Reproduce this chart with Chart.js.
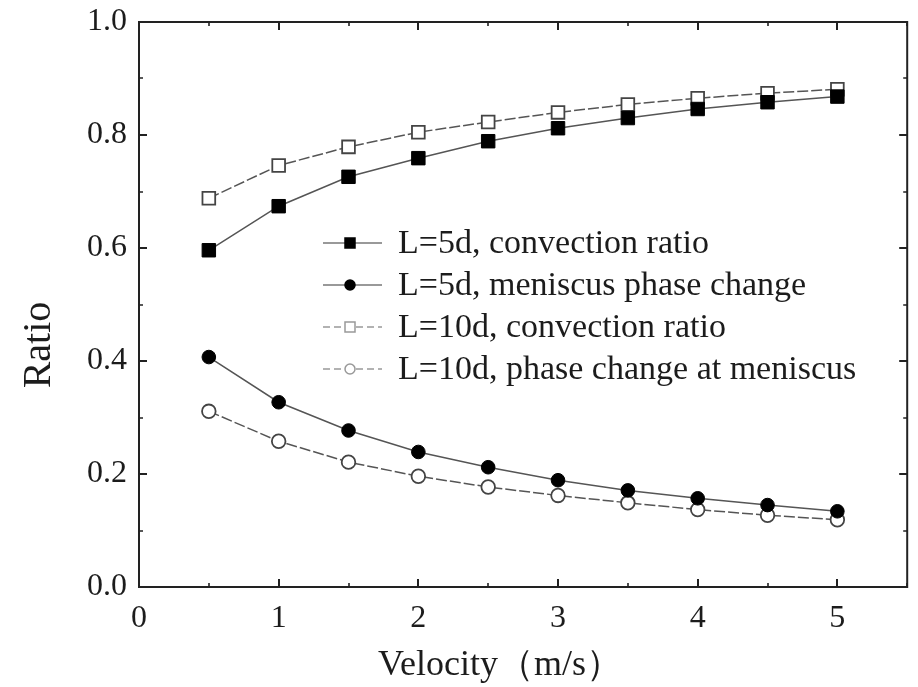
<!DOCTYPE html>
<html>
<head>
<meta charset="utf-8">
<script src="https://cdn.jsdelivr.net/npm/chart.js@4.4.1/dist/chart.umd.min.js"></script>
<style>
  html, body { margin: 0; padding: 0; background: #ffffff; }
  #wrap { width: 918px; height: 687px; }
</style>
</head>
<body>
<div id="wrap"><canvas id="c" width="918" height="687"></canvas></div>
<script>
// ---- data ----
const velocity = [0.5, 1, 1.5, 2, 2.5, 3, 3.5, 4, 4.5, 5];
const convection5d  = [0.596, 0.674, 0.726, 0.759, 0.789, 0.812, 0.830, 0.846, 0.858, 0.868];
const phase5d       = [0.407, 0.327, 0.277, 0.239, 0.212, 0.189, 0.171, 0.157, 0.145, 0.134];
const convection10d = [0.688, 0.746, 0.779, 0.805, 0.823, 0.840, 0.854, 0.865, 0.874, 0.881];
const phase10d      = [0.311, 0.258, 0.221, 0.196, 0.177, 0.162, 0.149, 0.137, 0.127, 0.119];
const seriesLabels = [
  'L=5d, convection ratio',
  'L=5d, meniscus phase change',
  'L=10d, convection ratio',
  'L=10d, phase change at meniscus'
];
const xTickLabels = ['0', '1', '2', '3', '4', '5'];
const yTickLabels = ['0.0', '0.2', '0.4', '0.6', '0.8', '1.0'];
const xTitle = 'Velocity（m/s）';
const yTitle = 'Ratio';

const SERIF = '"Liberation Serif", "Times New Roman", serif';
const TEXT = '#1c1c1c';

function pts(ys) { return velocity.map((v, i) => ({ x: v, y: ys[i] })); }

const datasets = [
  { label: seriesLabels[0], data: pts(convection5d), pointStyle: 'rect', pointRadius: 9.5,
    backgroundColor: '#000', borderColor: '#555', pointBorderColor: '#000', pointBackgroundColor: '#000',
    borderWidth: 1.5, pointBorderWidth: 1, borderDash: [], legendLine: '#777', legendDash: [] },
  { label: seriesLabels[1], data: pts(phase5d), pointStyle: 'circle', pointRadius: 6.8,
    backgroundColor: '#000', borderColor: '#555', pointBorderColor: '#000', pointBackgroundColor: '#000',
    borderWidth: 1.5, pointBorderWidth: 1, borderDash: [], legendLine: '#777', legendDash: [] },
  { label: seriesLabels[2], data: pts(convection10d), pointStyle: 'rect', pointRadius: 9,
    backgroundColor: '#fff', borderColor: '#555', pointBorderColor: '#444', pointBackgroundColor: '#fff',
    borderWidth: 1.5, pointBorderWidth: 1.8, borderDash: [11, 3], legendLine: '#999', legendDash: [7, 4] },
  { label: seriesLabels[3], data: pts(phase10d), pointStyle: 'circle', pointRadius: 6.8,
    backgroundColor: '#fff', borderColor: '#555', pointBorderColor: '#444', pointBackgroundColor: '#fff',
    borderWidth: 1.5, pointBorderWidth: 1.8, borderDash: [11, 3], legendLine: '#999', legendDash: [7, 4] }
];
datasets.forEach(d => { d.showLine = true; d.tension = 0; d.fill = false; });

// frame, inward ticks on all four sides, and axis titles
const frameTicks = {
  id: 'frameTicks',
  afterDatasetsDraw(chart) {
    const { ctx, chartArea: a, scales } = chart;
    const xs = scales.x, ys = scales.y;
    ctx.save();
    ctx.strokeStyle = '#222';
    ctx.lineWidth = 2;
    ctx.strokeRect(a.left, a.top, a.right - a.left, a.bottom - a.top);
    const major = 8, minor = 4;
    for (let v = 0; v <= 5.5 + 1e-9; v += 0.5) {
      const isMajor = Math.abs(v - Math.round(v)) < 1e-9;
      const len = isMajor ? major : minor;
      const px = Math.round(xs.getPixelForValue(v));
      ctx.lineWidth = isMajor ? 2 : 1.6;
      ctx.beginPath();
      ctx.moveTo(px, a.bottom); ctx.lineTo(px, a.bottom - len);
      ctx.moveTo(px, a.top); ctx.lineTo(px, a.top + len);
      ctx.stroke();
    }
    for (let k = 0; k <= 10; k++) {
      const v = k / 10;
      const isMajor = k % 2 === 0;
      const len = isMajor ? major : minor;
      const py = Math.round(ys.getPixelForValue(v));
      ctx.lineWidth = isMajor ? 2 : 1.6;
      ctx.beginPath();
      ctx.moveTo(a.left, py); ctx.lineTo(a.left + len, py);
      ctx.moveTo(a.right, py); ctx.lineTo(a.right - len, py);
      ctx.stroke();
    }
    // axis titles
    ctx.fillStyle = TEXT;
    ctx.textBaseline = 'alphabetic';
    ctx.font = '36px ' + SERIF;
    ctx.textAlign = 'left';
    ctx.fillText(xTitle, 378, 675);
    ctx.translate(50, 345);
    ctx.rotate(-Math.PI / 2);
    ctx.font = '40px ' + SERIF;
    ctx.textAlign = 'center';
    ctx.fillText(yTitle, 0, 0);
    ctx.restore();
  }
};

// legend drawn inside the plot area
const innerLegend = {
  id: 'innerLegend',
  afterDraw(chart) {
    const { ctx } = chart;
    const x0 = 323, x1 = 382, mx = 350, tx = 398;
    const rowY = [243, 285, 327, 369];
    ctx.save();
    chart.data.datasets.forEach((d, i) => {
      const y = rowY[i];
      ctx.strokeStyle = d.legendLine;
      ctx.lineWidth = 1.5;
      ctx.setLineDash(d.legendDash);
      ctx.beginPath();
      ctx.moveTo(x0, y); ctx.lineTo(x1, y);
      ctx.stroke();
      ctx.setLineDash([]);
      const filled = d.pointBackgroundColor === '#000';
      ctx.fillStyle = filled ? '#000' : '#fff';
      ctx.strokeStyle = filled ? '#000' : '#999';
      ctx.lineWidth = 1.5;
      ctx.beginPath();
      if (d.pointStyle === 'rect') {
        ctx.rect(mx - 5, y - 5, 10, 10);
      } else {
        ctx.arc(mx, y, 5, 0, Math.PI * 2);
      }
      ctx.fill();
      ctx.stroke();
      ctx.fillStyle = TEXT;
      ctx.font = '34px ' + SERIF;
      ctx.textBaseline = 'middle';
      ctx.textAlign = 'left';
      ctx.fillText(d.label, tx, y + 1);
    });
    ctx.restore();
  }
};

new Chart(document.getElementById('c'), {
  type: 'scatter',
  data: { datasets },
  options: {
    responsive: false,
    devicePixelRatio: 1,
    animation: false,
    layout: { padding: { left: 0, top: 22, right: 5, bottom: 0 } },
    plugins: { legend: { display: false }, tooltip: { enabled: false } },
    scales: {
      x: {
        type: 'linear', min: 0, max: 5.5,
        grid: { display: false, drawTicks: false },
        border: { display: false },
        ticks: {
          stepSize: 1, includeBounds: false, autoSkip: false, maxRotation: 0,
          padding: 12, color: TEXT, font: { family: SERIF, size: 32 },
          callback: (v) => { const i = Math.round(v); return (Math.abs(v - i) < 1e-9 && i < xTickLabels.length) ? xTickLabels[i] : ''; }
        },
        title: { display: false },
        afterFit: (s) => { s.height = 100; s.paddingLeft = 0; s.paddingRight = 0; }
      },
      y: {
        type: 'linear', min: 0, max: 1.0,
        grid: { display: false, drawTicks: false },
        border: { display: false },
        ticks: {
          stepSize: 0.2, padding: 12, color: TEXT, font: { family: SERIF, size: 32 },
          callback: (v) => { const i = Math.round(v * 5); return (Math.abs(v * 5 - i) < 1e-6) ? yTickLabels[i] : ''; }
        },
        title: { display: false },
        afterFit: (s) => { s.width = 139; s.paddingTop = 0; s.paddingBottom = 0; }
      }
    }
  },
  plugins: [frameTicks, innerLegend]
});
</script>
</body>
</html>
